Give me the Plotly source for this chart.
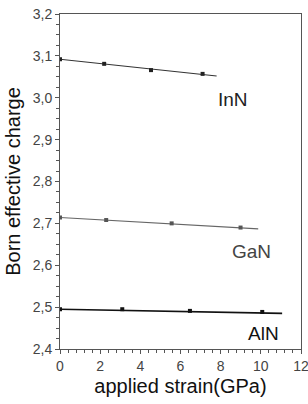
import plotly.graph_objects as go

# Data
inn_x = [0, 2.2, 4.53, 7.1]
inn_y = [3.092, 3.081, 3.066, 3.057]
inn_fit_x = [0, 7.8]
inn_fit_y = [3.092, 3.052]

gan_x = [0, 2.3, 5.56, 8.99]
gan_y = [2.714, 2.708, 2.700, 2.690]
gan_fit_x = [0, 9.87]
gan_fit_y = [2.714, 2.687]

aln_x = [0, 3.1, 6.47, 10.07]
aln_y = [2.495, 2.495, 2.491, 2.4885]
aln_fit_x = [0, 11.06]
aln_fit_y = [2.495, 2.485]

labels = ["InN", "GaN", "AlN"]
label_x = [8.6, 9.54, 10.11]
label_y = [2.995, 2.634, 2.438]
label_colors = ["#222222", "#444444", "#111111"]

FONT = "Liberation Sans, Arial, sans-serif"

fig = go.Figure()
series = [
    (inn_x, inn_y, inn_fit_x, inn_fit_y, "#333333", "#222222", 1.2),
    (gan_x, gan_y, gan_fit_x, gan_fit_y, "#666666", "#555555", 1.2),
    (aln_x, aln_y, aln_fit_x, aln_fit_y, "#111111", "#111111", 1.6),
]
for px, py, fx, fy, lc, mc, lw in series:
    fig.add_trace(go.Scatter(x=fx, y=fy, mode="lines",
                             line=dict(color=lc, width=lw), showlegend=False))
    fig.add_trace(go.Scatter(x=px, y=py, mode="markers",
                             marker=dict(symbol="square", size=4, color=mc),
                             showlegend=False))

for t, x, y, c in zip(labels, label_x, label_y, label_colors):
    fig.add_annotation(x=x, y=y, text=t, showarrow=False,
                       font=dict(family=FONT, size=19, color=c))

axis_common = dict(
    showline=True, linecolor="#555555", linewidth=1, mirror=True,
    showgrid=False, zeroline=False,
    ticks="outside", ticklen=4, tickcolor="#555555", tickwidth=1,
    tickfont=dict(family=FONT, size=14, color="#444444"),
    ticklabeloverflow="allow", automargin=False,
)

fig.update_layout(
    width=308, height=404,
    margin=dict(l=60, r=7, t=14, b=55),
    paper_bgcolor="white", plot_bgcolor="white",
    separators=",.",
    font=dict(family=FONT),
    xaxis=dict(range=[0, 12], dtick=2, tick0=0,
               minor=dict(dtick=0.4, ticks="outside", ticklen=3, tickcolor="#555555"),
               title=dict(text="applied strain(GPa)", font=dict(family=FONT, size=20, color="#111111"),
                          standoff=6),
               **axis_common),
    yaxis=dict(range=[2.4, 3.2], dtick=0.1, tick0=2.4, tickformat=".1f",
               minor=dict(dtick=0.025, ticks="outside", ticklen=3, tickcolor="#555555"),
               title=dict(text="Born effective charge", font=dict(family=FONT, size=20, color="#111111"),
                          standoff=6),
               **axis_common),
)

fig.write_html("out.html")
